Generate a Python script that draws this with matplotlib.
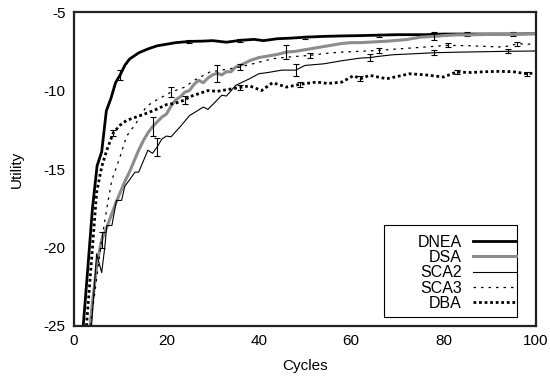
import numpy as np
import matplotlib
matplotlib.use("Agg")
from matplotlib import pyplot as plt
from matplotlib.patches import Rectangle

plt.rcParams['font.family'] = ['Liberation Sans', 'DejaVu Sans']
plt.rcParams['axes.unicode_minus'] = False

# values
dnea_x = [2, 3, 4, 5, 6, 7, 8, 9, 10, 11, 12, 13, 14, 16, 18, 20, 22, 25, 28, 30, 33, 36, 39, 41, 44, 47, 50, 54, 58, 62, 66, 70, 76, 80, 85, 90, 95, 100]
dnea_y = [-25, -21.3, -17.5, -14.8, -13.9, -11.3, -10.5, -9.5, -9.0, -8.4, -8.0, -7.8, -7.6, -7.35, -7.15, -7.05, -6.95, -6.87, -6.85, -6.82, -6.92, -6.8, -6.74, -6.82, -6.7, -6.66, -6.6, -6.55, -6.52, -6.5, -6.47, -6.44, -6.44, -6.4, -6.4, -6.4, -6.4, -6.38]

dsa_x = [3.5, 4, 5, 6, 7, 8, 9, 10, 11, 12, 13, 14, 15, 16, 17, 18, 19, 20, 21, 22, 23, 24, 25, 26, 27, 28, 29, 30, 31, 32, 33, 34, 35, 36, 38, 40, 42, 44, 46, 48, 50, 52, 55, 58, 60, 62, 65, 68, 70, 72, 75, 78, 80, 83, 86, 90, 95, 100]
dsa_y = [-25, -23.5, -21.0, -19.5, -18.8, -18.0, -17.2, -16.5, -15.8, -15.2, -14.5, -13.8, -13.2, -12.7, -12.3, -12.0, -11.7, -11.5, -11.0, -10.6, -10.4, -10.1, -10.0, -9.6, -9.35, -9.5, -9.2, -9.0, -8.9, -9.0, -8.8, -8.8, -8.5, -8.4, -8.1, -7.9, -7.8, -7.7, -7.55, -7.5, -7.4, -7.3, -7.15, -7.0, -6.95, -6.95, -6.9, -6.85, -6.8, -6.75, -6.6, -6.55, -6.5, -6.45, -6.45, -6.42, -6.4, -6.38]

sca2_x = [3.8, 4.9, 6, 6.7, 7.1, 8.2, 9.2, 10.3, 11, 12, 13.2, 14, 16, 17, 18, 19, 20, 21, 23, 25, 28, 29, 30, 32, 33, 35, 38, 40, 42, 45, 48, 50, 54, 58, 62, 64, 66, 69, 74, 78, 84, 90, 94, 100]
sca2_y = [-25, -20.4, -21.6, -19.9, -18.6, -18.6, -17.0, -17.0, -16.1, -15.7, -15.2, -15.2, -13.8, -14.0, -13.6, -13.1, -12.9, -12.95, -12.3, -11.6, -11.05, -11.2, -10.9, -10.3, -10.35, -9.67, -9.25, -8.93, -8.85, -8.7, -8.7, -8.4, -8.3, -8.1, -7.93, -7.9, -7.82, -7.72, -7.65, -7.59, -7.55, -7.52, -7.5, -7.48]

sca3_x = [3.5, 4.5, 6, 7.4, 8.2, 10, 11.4, 13.4, 15.7, 17.9, 21, 24, 26, 29.4, 33, 36, 40, 43, 47, 51, 55, 58, 62, 66, 70, 75, 81, 86, 90, 93, 96, 100]
sca3_y = [-25, -22.9, -19.5, -17.0, -15.7, -14.2, -12.9, -12.1, -11.0, -10.6, -10.1, -9.78, -9.35, -8.82, -8.65, -8.5, -8.2, -7.97, -7.85, -7.76, -7.62, -7.55, -7.5, -7.44, -7.35, -7.25, -7.12, -7.15, -7.2, -7.23, -7.02, -7.06]

dba_x = [2.7, 3.8, 4.9, 6, 7.1, 8.5, 10, 11.4, 13.6, 15.7, 17.5, 20, 22, 24, 25, 27, 29, 31, 34, 36, 38, 40.6, 43, 46, 49, 52.5, 55, 58, 60.5, 62, 64, 67.7, 70, 72.7, 76, 80, 82.8, 86, 89, 92, 95, 98, 100]
dba_y = [-25, -20.8, -16.5, -14.85, -13.8, -12.7, -12.2, -11.9, -11.67, -11.45, -11.24, -10.9, -10.8, -10.6, -10.4, -10.2, -10.0, -10.05, -9.9, -9.8, -9.7, -10.0, -9.5, -9.78, -9.6, -9.46, -9.55, -9.46, -9.05, -9.25, -9.03, -9.25, -9.1, -8.93, -9.0, -9.14, -8.82, -8.85, -8.8, -8.78, -8.8, -8.93, -8.88]

# error bars: (cycle, half width)
dnea_err = [(10, 0.3), (25, 0.1), (36, 0.1), (50, 0.1), (66, 0.1), (85, 0.1), (95, 0.1)]
dsa_err = [(6, 0.5), (17, 0.6), (31, 0.55), (46, 0.45), (78, 0.25)]
sca2_err = [(18, 0.6), (48, 0.4), (64, 0.2), (78, 0.15), (94, 0.12)]
sca3_err = [(21, 0.3), (36, 0.2), (51, 0.15), (66, 0.15), (81, 0.12), (96, 0.12)]
dba_err = [(8.5, 0.2), (24, 0.25), (36, 0.15), (49, 0.15), (62, 0.15), (82.8, 0.12), (98, 0.12)]

fig = plt.figure(figsize=(5.5, 3.77), dpi=100)
ax = fig.add_axes([0.1345, 0.1353, 0.84, 0.8327])

series = [
    ("DNEA", dnea_x, dnea_y, dnea_err, dict(color="black", lw=2.0, ls="-")),
    ("DSA", dsa_x, dsa_y, dsa_err, dict(color="#8c8c8c", lw=2.2, ls="-")),
    ("SCA2", sca2_x, sca2_y, sca2_err, dict(color="black", lw=0.8, ls="-")),
    ("SCA3", sca3_x, sca3_y, sca3_err, dict(color="black", lw=0.9, ls=(0, (2, 4)))),
    ("DBA", dba_x, dba_y, dba_err, dict(color="black", lw=2.0, ls=(0, (1, 1)))),
]

for name, xs, ys, errs, style in series:
    ax.plot(xs, ys, label=name, **style)
    lookup = dict(zip(xs, ys))
    ex = [c for c, e in errs]
    ey = [lookup[c] for c, e in errs]
    ee = [e for c, e in errs]
    ax.errorbar(ex, ey, yerr=ee, fmt="none", ecolor="black", elinewidth=0.8, capsize=2.5, capthick=0.8)

ax.set_xlim(0, 100)
ax.set_ylim(-25, -5)
ax.set_xticks([0, 20, 40, 60, 80, 100])
ax.set_yticks([-25, -20, -15, -10, -5])
ax.tick_params(length=0, labelsize=11, pad=6)
for s in ax.spines.values():
    s.set_linewidth(1.6)
    s.set_color("#222222")

ax.set_xlabel("Cycles", fontsize=11, labelpad=8)
ax.set_ylabel("Utility", fontsize=11, labelpad=14)

# legend box drawn separately (text is right-aligned, handles run to the right edge)
ax.add_patch(Rectangle((0.671, 0.029), 0.288, 0.293, transform=ax.transAxes,
                       facecolor="white", edgecolor="black", lw=0.8, zorder=4.5))
leg = ax.legend(loc="lower right", markerfirst=False, prop={"size": 11.5}, frameon=False,
                handlelength=2.7, handletextpad=0.69, labelspacing=0.02, borderpad=0,
                borderaxespad=0, bbox_to_anchor=(0.9567, 0.048))

fig.savefig("out.png", dpi=100)
